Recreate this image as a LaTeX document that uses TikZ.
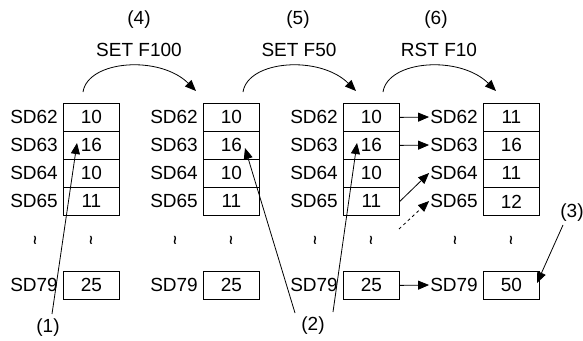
\documentclass[tikz,border=0pt]{standalone}
\usepackage{fontspec}
\setmainfont{Liberation Sans}
\newfontfamily\symfont{DejaVu Sans}
\usetikzlibrary{arrows.meta}
\begin{document}
\begin{tikzpicture}[x=1pt,y=-1pt,
  txt/.style={font=\fontsize{19}{19}\selectfont},
  cell/.style={txt, draw, line width=0.8pt, minimum width=56pt, minimum height=28pt, inner sep=0pt, anchor=north west},
  reg/.style={txt, anchor=east, inner sep=0pt},
  lbl/.style={txt, inner sep=0pt},
  tld/.style={inner sep=0pt, font=\symfont\bfseries\fontsize{13}{13}\selectfont},
  arr/.style={-{Triangle[length=11pt,width=9pt]}, line width=0.8pt},
]
\useasboundingbox (0,0) rectangle (583,340);

\foreach \c/\a/\b/\cc/\d/\e in {0/10/16/10/11/25, 1/10/16/10/11/25, 2/10/16/10/11/25, 3/11/16/11/12/50} {
  \pgfmathsetmacro\xl{63+140*\c}
  \node[cell] (c\c r0) at (\xl,103) {\a};
  \node[cell] (c\c r1) at (\xl,131) {\b};
  \node[cell] (c\c r2) at (\xl,159) {\cc};
  \node[cell] (c\c r3) at (\xl,187) {\d};
  \node[cell] (c\c r4) at (\xl,271) {\e};
  \node[reg] (l\c r0) at (\xl-5,117) {SD62};
  \node[reg] (l\c r1) at (\xl-5,145) {SD63};
  \node[reg] (l\c r2) at (\xl-5,173) {SD64};
  \node[reg] (l\c r3) at (\xl-5,201) {SD65};
  \node[reg] (l\c r4) at (\xl-5,285) {SD79};
  \node[tld] (ta\c) at (\xl-28,240) {≀};
  \node[tld] (tb\c) at (\xl+28,240) {≀};
}

% top labels
\node[lbl] (n4) at (139,20) {(4)};
\node[lbl] (s4) at (139,50) {SET F100};
\node[lbl] (n5) at (298,20) {(5)};
\node[lbl] (s5) at (299,50) {SET F50};
\node[lbl] (n6) at (436,20) {(6)};
\node[lbl] (s6) at (439,50) {RST F10};

% curved arrows
\coordinate (a1) at (83,92);  \coordinate (b1) at (196,91);
\coordinate (a2) at (243,92); \coordinate (b2) at (356,91);
\coordinate (a3) at (383,92); \coordinate (b3) at (496,91);
\draw[arr] (a1) .. controls (88,60) and (160,55) .. (b1);
\draw[arr] (a2) .. controls (248,60) and (320,55) .. (b2);
\draw[arr] (a3) .. controls (388,60) and (460,55) .. (b3);

% transfer arrows
\draw[arr] (c2r0.east) -- ([xshift=-1pt]l3r0.west);
\draw[arr] (c2r1.east) -- ([xshift=-1pt]l3r1.west);
\draw[arr] (c2r3.east) -- ([xshift=-1pt]l3r2.west);
\coordinate (dsh) at (399,229);
\draw[arr, dash pattern=on 3pt off 3pt] (dsh) -- ([xshift=-1pt]l3r3.west);
\draw[arr] (c2r4.east) -- ([xshift=-1pt]l3r4.west);

% pointers
\node[lbl] (p1) at (48,328) {(1)};
\coordinate (p1s) at (52,314); \coordinate (p1t) at (77,143);
\draw[arr] (p1s) -- (p1t);

\node[lbl] (p2) at (313,326) {(2)};
\coordinate (p2s) at (295,313); \coordinate (p2t) at (245,148);
\coordinate (p2u) at (333,312); \coordinate (p2v) at (357,143);
\draw[arr] (p2s) -- (p2t);
\draw[arr] (p2u) -- (p2v);

\node[lbl] (p3) at (572,213) {(3)};
\coordinate (p3s) at (563,225); \coordinate (p3t) at (537,283);
\draw[arr] (p3s) -- (p3t);
\end{tikzpicture}
\end{document}
